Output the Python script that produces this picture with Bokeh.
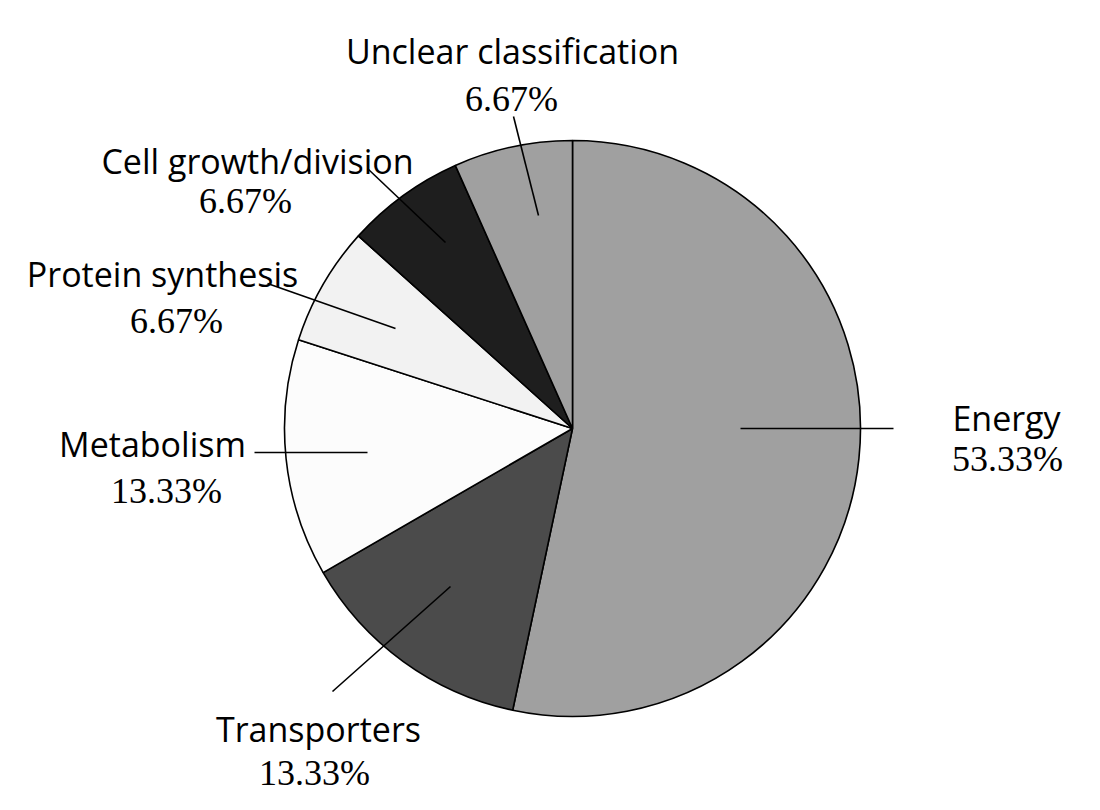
import numpy as np
from bokeh.plotting import figure
from bokeh.models import Range1d
from bokeh.core.properties import value
from bokeh.embed import file_html
from bokeh.resources import INLINE

# ---- data ----
categories = ["Energy", "Transporters", "Metabolism", "Protein synthesis",
              "Cell growth/division", "Unclear classification"]
percents = [53.33, 13.33, 13.33, 6.67, 6.67, 6.67]
pct_labels = ["53.33%", "13.33%", "13.33%", "6.67%", "6.67%", "6.67%"]

# ---- styles / layout ----
colors = ["#a0a0a0", "#4b4b4b", "#fcfcfc", "#f2f2f2", "#1e1e1e", "#a0a0a0"]
W, H = 1084, 794
cx, cy, R = 572, 428, 288  # page px

# label positions (page px): name baseline, pct baseline
name_pos = [(1006, 417), (318, 728), (152, 443), (162, 273), (257, 160), (512, 50)]
pct_pos = [(1007, 458), (314, 772), (166, 490), (176, 320), (245, 200), (511, 98)]
leaders = [((740, 428), (893, 428)), ((450, 586), (332, 691)),
           ((367, 452), (254, 452)), ((395, 328), (267, 283)),
           ((445, 242), (367, 168)), ((538, 215), (513, 116))]


def Y(py):
    return 810 - py


p = figure(width=W, height=H, output_backend="svg", toolbar_location=None,
           x_range=Range1d(0, W), y_range=Range1d(810 - H, 810),
           min_border=0)
p.axis.visible = False
p.grid.visible = False
p.outline_line_color = None
p.background_fill_color = "white"
p.border_fill_color = "white"

frac = np.array(percents) / np.sum(percents)
cum = np.concatenate([[0], np.cumsum(frac)])
start = np.pi / 2 - 2 * np.pi * cum[:-1]
end = np.pi / 2 - 2 * np.pi * cum[1:]

p.wedge(x=cx, y=Y(cy), radius=R, start_angle=start, end_angle=end,
        direction="clock", fill_color=colors, line_color="black", line_width=1.6)

for (a, b) in leaders:
    p.line([a[0], b[0]], [Y(a[1]), Y(b[1])], line_color="black", line_width=1.6)

p.text(x=[q[0] for q in name_pos], y=[Y(q[1]) for q in name_pos], text=categories,
       text_align="center", text_baseline="alphabetic",
       text_font=value("Open Sans"), text_font_size="34px", text_color="black")
p.text(x=[q[0] for q in pct_pos], y=[Y(q[1]) for q in pct_pos], text=pct_labels,
       text_align="center", text_baseline="alphabetic",
       text_font=value("Liberation Serif"), text_font_size="36px", text_color="black")

open("out.html", "w").write(file_html(p, INLINE))
